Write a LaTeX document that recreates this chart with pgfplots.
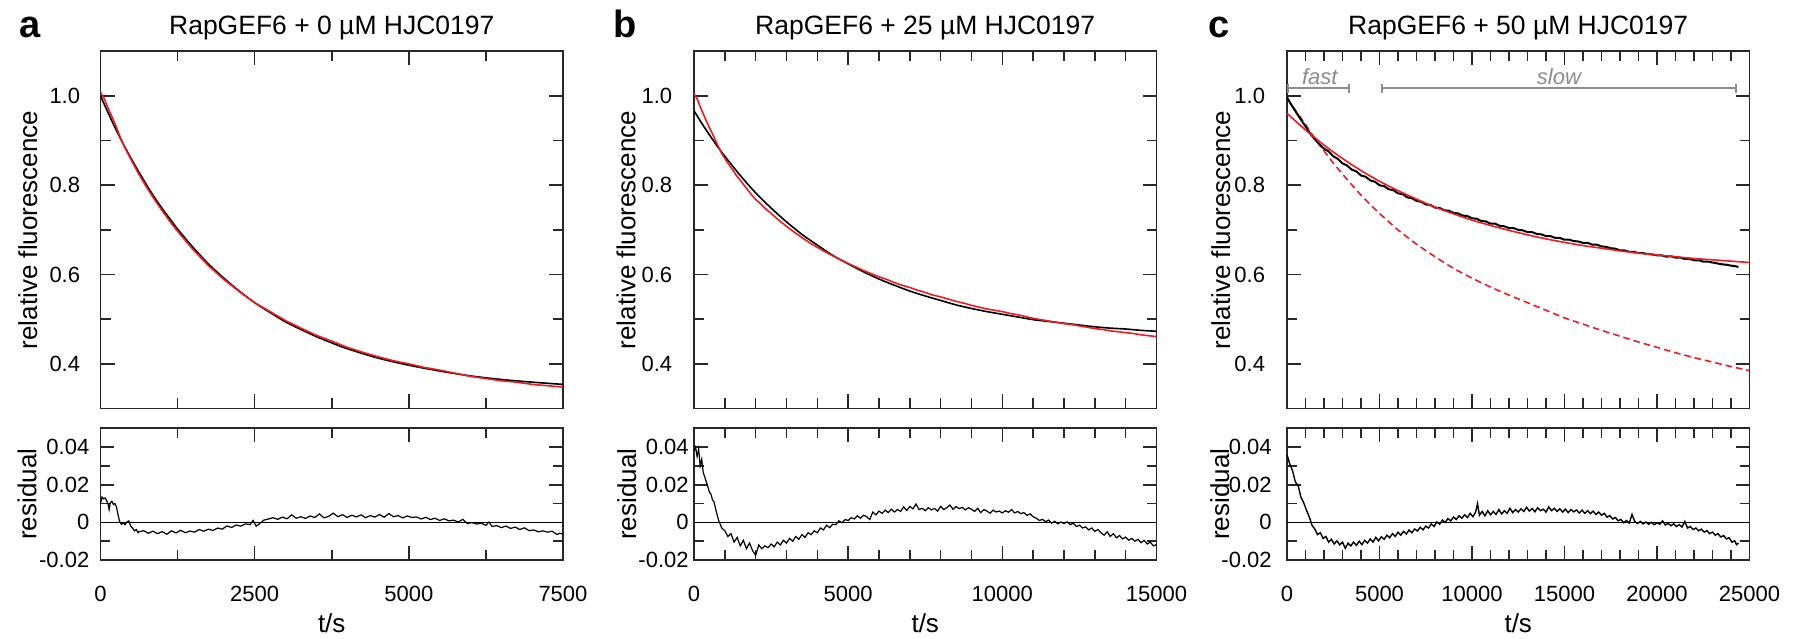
\documentclass[border=0pt]{standalone}
\usepackage{fontspec}
\setmainfont{Liberation Sans}
\usepackage{pgfplots}
\pgfplotsset{compat=1.18}
\usetikzlibrary{arrows.meta}

\definecolor{fitred}{RGB}{237,28,36}
\definecolor{annot}{RGB}{140,140,140}
\definecolor{frame}{RGB}{40,40,40}

\newcommand{\tickfont}{\fontsize{11}{13}\selectfont}
\newcommand{\labfont}{\fontsize{13}{15}\selectfont}

\pgfplotsset{
  panel/.style={
    scale only axis, width=231.25pt, anchor=south west,
    axis line style={line width=0.9pt, frame},
    every tick/.style={line width=0.8pt, frame},
    tick align=inside, tick pos=both,
    major tick length=7pt, minor tick length=5pt,
    scaled ticks=false,
    yticklabel style={anchor=east, inner sep=0pt, font=\tickfont},
    xticklabel style={anchor=base, inner sep=0pt, yshift=-20.85pt, font=\tickfont},
    every axis x label/.style={at={(axis description cs:0.5,-0.478)}, anchor=center, font=\labfont},
  },
  ylab/.style={every axis y label/.style={at={(axis description cs:#1,0.5)}, rotate=90, anchor=center, font=\labfont}},
  ytl/.style={yticklabel style={xshift=-#1}},
  top/.style={panel, height=178.6pt, ymin=0.3, ymax=1.1,
    ytick={0.4,0.6,0.8,1.0}, yticklabels={0.4,0.6,0.8,1.0}, minor ytick={0.5,0.7,0.9},
    xticklabels={}, ylabel={relative fluorescence}},
  bot/.style={panel, height=65.85pt, ymin=-0.02, ymax=0.05,
    ytick={-0.02,0,0.02,0.04}, yticklabels={-0.02,0,0.02,0.04}, minor ytick={-0.01,0.01,0.03},
    ylabel={residual}, xlabel={t/s}},
  fitline/.style={line width=0.8pt},
  resline/.style={black, line width=0.6pt},
}

\begin{document}
\begin{tikzpicture}
\useasboundingbox (0,0) rectangle (898pt,319pt);

% panel letters and titles
\node[anchor=base west, inner sep=0pt, font=\bfseries\fontsize{19}{21}\selectfont] at (9.5pt,300.25pt) {a};
\node[anchor=base west, inner sep=0pt, font=\bfseries\fontsize{19}{21}\selectfont] at (306.75pt,300.25pt) {b};
\node[anchor=base west, inner sep=0pt, font=\bfseries\fontsize{19}{21}\selectfont] at (604pt,300.25pt) {c};
\node[anchor=base, inner sep=0pt, font=\fontsize{13.25}{15}\selectfont] at (165.9pt,301.5pt) {RapGEF6 + 0 µM HJC0197};
\node[anchor=base, inner sep=0pt, font=\fontsize{13.25}{15}\selectfont] at (462.6pt,301.5pt) {RapGEF6 + 25 µM HJC0197};
\node[anchor=base, inner sep=0pt, font=\fontsize{13.25}{15}\selectfont] at (759.1pt,301.5pt) {RapGEF6 + 50 µM HJC0197};

% ---------------- a ----------------
\begin{axis}[top, at={(50.25pt,114.75pt)}, ylab=-0.157, ytl=10pt,
  xmin=0, xmax=7500, xtick={0,2500,5000,7500}, minor xtick={1250,3750,6250}]
\addplot[black, fitline, smooth] coordinates {
(0,1.000) (125,0.962) (250,0.925) (375,0.891) (500,0.859) (625,0.829) (750,0.800)
(875,0.773) (1000,0.748) (1250,0.702) (1500,0.661) (1750,0.624) (2000,0.592)
(2250,0.563) (2500,0.537) (2750,0.515) (3000,0.494) (3250,0.477) (3500,0.461)
(3750,0.447) (4000,0.434) (4500,0.413) (5000,0.397) (5500,0.384) (6000,0.373)
(6500,0.365) (7000,0.359) (7500,0.354)};
\addplot[fitred, fitline] coordinates {
(0,1.008) (60,0.994) (125,0.972) (190,0.952) (250,0.933) (310,0.911) (375,0.890)
(500,0.856) (625,0.824) (750,0.795) (875,0.768) (1000,0.743) (1125,0.719) (1250,0.697)
(1500,0.656) (1750,0.620) (2000,0.589) (2250,0.562) (2500,0.537) (2750,0.517)
(3000,0.497) (3250,0.480) (3500,0.464) (3750,0.451) (4000,0.437) (4250,0.426)
(4500,0.416) (4750,0.407) (5000,0.400) (5250,0.392) (5500,0.386) (5750,0.379)
(6000,0.372) (6250,0.367) (6500,0.362) (6750,0.359) (7000,0.354) (7250,0.351) (7500,0.348)};
\end{axis}

\begin{axis}[bot, at={(50.25pt,39pt)}, ylab=-0.159, ytl=5.4pt,
  xmin=0, xmax=7500, xtick={0,2500,5000,7500}, minor xtick={1250,3750,6250},
  xticklabels={0,2500,5000,7500}]
\addplot[black, line width=0.5pt] coordinates {(0,0) (7500,0)};
\addplot[resline] coordinates {
(0,0.0100) (25,0.0135) (50,0.0125) (75,0.0130) (100,0.0115) (125,0.0095) (140,0.0068)
(160,0.0105) (185,0.0112) (210,0.0095) (235,0.0100) (260,0.0080) (285,0.0040)
(310,0.0005) (340,-0.0010) (370,-0.0003) (400,-0.0012) (430,0.0003) (460,0.0008)
(490,-0.0020) (520,-0.0030) (550,-0.0045) (580,-0.0038) (610,-0.0055)
(625,-0.0050) (700,-0.0044) (775,-0.0058) (850,-0.0047) (925,-0.0060) (1000,-0.0049)
(1075,-0.0063) (1150,-0.0045) (1225,-0.0056) (1300,-0.0042) (1375,-0.0055) (1450,-0.0046)
(1525,-0.0052) (1600,-0.0038) (1675,-0.0047) (1750,-0.0036) (1825,-0.0043) (1900,-0.0030)
(1975,-0.0036) (2050,-0.0019) (2125,-0.0027) (2200,-0.0014) (2275,-0.0020) (2350,-0.0008)
(2425,-0.0012) (2475,0.0010) (2525,-0.0020) (2575,-0.0008) (2650,0.0012) (2725,0.0018)
(2800,0.0025) (2875,0.0016) (2950,0.0028) (3025,0.0019) (3100,0.0040) (3175,0.0022)
(3250,0.0030) (3325,0.0021) (3400,0.0034) (3475,0.0026) (3550,0.0045) (3625,0.0024)
(3700,0.0032) (3775,0.0049) (3850,0.0030) (3925,0.0041) (4000,0.0026) (4075,0.0038)
(4150,0.0029) (4225,0.0040) (4300,0.0025) (4375,0.0036) (4450,0.0028) (4525,0.0042)
(4600,0.0027) (4675,0.0047) (4750,0.0030) (4825,0.0036) (4900,0.0024) (4975,0.0034)
(5050,0.0026) (5125,0.0029) (5200,0.0018) (5275,0.0027) (5350,0.0015) (5425,0.0022)
(5500,0.0010) (5575,0.0019) (5650,0.0008) (5725,0.0012) (5800,0.0002) (5875,0.0016)
(5950,-0.0006) (6025,-0.0001) (6100,-0.0009) (6175,-0.0004) (6250,-0.0016) (6300,0.0002)
(6350,-0.0022) (6425,-0.0017) (6500,-0.0028) (6575,-0.0020) (6650,-0.0032) (6725,-0.0025)
(6800,-0.0038) (6875,-0.0029) (6950,-0.0044) (7025,-0.0040) (7100,-0.0050) (7175,-0.0045)
(7250,-0.0052) (7325,-0.0047) (7400,-0.0064) (7450,-0.0058) (7500,-0.0062)};
\end{axis}

% ---------------- b ----------------
\begin{axis}[top, at={(347pt,114.75pt)}, ylab=-0.147, ytl=10.7pt,
  xmin=0, xmax=15000, xtick={0,5000,10000,15000}, minor xtick={0,1000,...,15000}]
\addplot[black, fitline, smooth] coordinates {
(0,0.967) (250,0.939) (500,0.913) (750,0.888) (1000,0.865) (1500,0.822) (2000,0.783)
(2500,0.749) (3000,0.718) (3500,0.690) (4000,0.666) (4500,0.643) (5000,0.624)
(5500,0.606) (6000,0.590) (6500,0.576) (7000,0.563) (7500,0.552) (8000,0.542)
(8500,0.532) (9000,0.524) (9500,0.517) (10000,0.511) (10500,0.505) (11000,0.499)
(11500,0.495) (12000,0.491) (12500,0.487) (13000,0.483) (13500,0.480) (14000,0.478)
(14500,0.475) (15000,0.473)};
\addplot[fitred, fitline] coordinates {
(0,1.005) (100,0.994) (200,0.976) (300,0.960) (400,0.944) (500,0.929) (600,0.915)
(700,0.900) (800,0.885) (900,0.871) (1000,0.860) (1125,0.847) (1250,0.835) (1375,0.822)
(1500,0.811) (1625,0.800) (1750,0.789) (1875,0.778) (2000,0.768) (2125,0.761)
(2250,0.752) (2375,0.744) (2500,0.737) (2625,0.729) (2750,0.722) (2875,0.715)
(3000,0.708) (3250,0.695) (3500,0.683) (3750,0.671) (4000,0.661) (4250,0.651)
(4500,0.642) (4750,0.633) (5000,0.625) (5250,0.617) (5500,0.609) (5750,0.602)
(6000,0.595) (6250,0.589) (6500,0.582) (6750,0.576) (7000,0.571) (7250,0.565)
(7500,0.560) (7750,0.554) (8000,0.550) (8250,0.545) (8500,0.540) (8750,0.536)
(9000,0.531) (9250,0.527) (9500,0.523) (9750,0.520) (10000,0.517) (10250,0.513)
(10500,0.510) (10750,0.506) (11000,0.502) (11250,0.499) (11500,0.496) (11750,0.493)
(12000,0.490) (12250,0.488) (12500,0.485) (12750,0.482) (13000,0.479) (13250,0.477)
(13500,0.474) (13750,0.472) (14000,0.470) (14250,0.468) (14500,0.465) (14750,0.463)
(15000,0.461)};
\end{axis}

\begin{axis}[bot, at={(347pt,39pt)}, ylab=-0.145, ytl=2.5pt,
  xmin=0, xmax=15000, xtick={0,5000,10000,15000}, minor xtick={0,1000,...,15000},
  xticklabels={0,5000,10000,15000}]
\addplot[black, line width=0.5pt] coordinates {(0,0) (15000,0)};
\addplot[resline] coordinates {
(0,0.0380) (50,0.0400) (100,0.0350) (150,0.0390) (200,0.0300) (250,0.0335) (300,0.0265)
(350,0.0240) (400,0.0215) (450,0.0190) (500,0.0160) (550,0.0150) (600,0.0120)
(650,0.0108) (700,0.0072) (750,0.0040) (800,0.0010) (900,-0.0030) (1000,-0.0045)
(1100,-0.0075) (1200,-0.0060) (1300,-0.0105) (1400,-0.0080) (1500,-0.0125)
(1600,-0.0095) (1700,-0.0140) (1800,-0.0110) (1900,-0.0150) (2000,-0.0175)
(2100,-0.0120) (2200,-0.0140) (2300,-0.0125) (2400,-0.0135) (2500,-0.0115)
(2600,-0.0130) (2700,-0.0105) (2800,-0.0120) (2900,-0.0095) (3000,-0.0110)
(3100,-0.0085) (3200,-0.0100) (3300,-0.0075) (3400,-0.0090) (3500,-0.0065)
(3600,-0.0080) (3700,-0.0055) (3800,-0.0065) (3900,-0.0045) (4000,-0.0055)
(4100,-0.0030) (4200,-0.0040) (4300,-0.0015) (4400,-0.0028) (4500,-0.0010)
(4600,-0.0012) (4700,0.0008) (4800,-0.0002) (4900,0.0015) (5000,0.0010) (5100,0.0025)
(5200,0.0018) (5300,0.0035) (5400,0.0022) (5500,0.0038) (5600,0.0030) (5700,0.0015)
(5800,0.0055) (5900,0.0040) (6000,0.0060) (6100,0.0048) (6200,0.0065) (6300,0.0052)
(6400,0.0070) (6500,0.0055) (6600,0.0068) (6700,0.0058) (6800,0.0082) (6900,0.0063)
(7000,0.0085) (7100,0.0072) (7200,0.0098) (7300,0.0068) (7400,0.0075) (7500,0.0062)
(7600,0.0078) (7700,0.0066) (7800,0.0074) (7900,0.0060) (8000,0.0085) (8100,0.0068)
(8200,0.0078) (8300,0.0092) (8400,0.0070) (8500,0.0084) (8600,0.0073) (8700,0.0080)
(8800,0.0066) (8900,0.0078) (9000,0.0070) (9100,0.0058) (9200,0.0075) (9300,0.0052)
(9400,0.0068) (9500,0.0060) (9600,0.0049) (9700,0.0065) (9800,0.0055) (9900,0.0060)
(10000,0.0050) (10100,0.0062) (10200,0.0054) (10300,0.0068) (10400,0.0050) (10500,0.0058)
(10600,0.0046) (10700,0.0052) (10800,0.0038) (10900,0.0045) (11000,0.0030) (11100,0.0022)
(11200,0.0010) (11300,0.0016) (11400,0.0004) (11500,0.0012) (11600,-0.0004) (11700,0.0006)
(11800,-0.0008) (11900,0.0002) (12000,-0.0006) (12100,0.0003) (12200,-0.0012) (12300,-0.0004)
(12400,-0.0022) (12500,-0.0015) (12600,-0.0030) (12700,-0.0024) (12800,-0.0040)
(12900,-0.0030) (13000,-0.0048) (13100,-0.0038) (13200,-0.0055) (13300,-0.0068)
(13400,-0.0050) (13500,-0.0075) (13600,-0.0060) (13700,-0.0082) (13800,-0.0070)
(13900,-0.0088) (14000,-0.0078) (14100,-0.0095) (14200,-0.0085) (14300,-0.0100)
(14400,-0.0090) (14500,-0.0108) (14600,-0.0096) (14700,-0.0115) (14800,-0.0105)
(14900,-0.0125) (15000,-0.0118)};
\end{axis}

% ---------------- c ----------------
\begin{axis}[top, at={(643.5pt,114.75pt)}, ylab=-0.143, ytl=10.8pt,
  xmin=0, xmax=25000, xtick={0,5000,...,25000}, minor xtick={0,1000,...,25000}]
\draw[annot, line width=1pt, {Bar[width=4.5pt]}-{Bar[width=4.5pt]}] (axis cs:0,1.017) -- (axis cs:3400,1.017);
\draw[annot, line width=1pt, {Bar[width=4.5pt]}-{Bar[width=4.5pt]}] (axis cs:5100,1.017) -- (axis cs:24300,1.017);
\node[annot, anchor=base, inner sep=0pt, font=\itshape\tickfont] at (axis cs:1770,1.026) {fast};
\node[annot, anchor=base, inner sep=0pt, font=\itshape\tickfont] at (axis cs:14700,1.026) {slow};
\addplot[fitred, fitline, dash pattern=on 3.3pt off 2pt, smooth] coordinates {
(0,0.995) (500,0.965) (1000,0.936) (1500,0.905) (2000,0.877) (2500,0.850) (3000,0.825)
(3500,0.801) (4000,0.778) (4500,0.757) (5000,0.737) (6000,0.700) (7000,0.668)
(8000,0.640) (9000,0.614) (10000,0.592) (11000,0.572) (12000,0.554) (13000,0.537)
(14000,0.520) (15000,0.503) (16000,0.489) (17000,0.475) (18000,0.462) (19000,0.449)
(20000,0.437) (21000,0.425) (22000,0.414) (23000,0.404) (24000,0.394) (25000,0.385)};
\addplot[black, line width=1pt] coordinates {
(0,0.997) (150,0.986) (300,0.976) (500,0.963) (750,0.947) (1000,0.932) (1250,0.916)
(1500,0.903) (1750,0.892) (2000,0.882) (2250,0.876) (2500,0.865) (2750,0.859)
(3000,0.849) (3250,0.844) (3500,0.835) (3750,0.831) (4000,0.822) (4250,0.819)
(4500,0.811) (4750,0.808) (5000,0.800) (5250,0.798) (5500,0.791) (5750,0.789)
(6000,0.782) (6250,0.780) (6500,0.773) (6750,0.771) (7000,0.765) (7250,0.763)
(7500,0.757) (7750,0.756) (8000,0.750) (8250,0.749) (8500,0.744) (8750,0.743)
(9000,0.738) (9250,0.737) (9500,0.732) (9750,0.731) (10000,0.726) (10250,0.725)
(10500,0.720) (10750,0.719) (11000,0.714) (11250,0.714) (11500,0.709) (11750,0.708)
(12000,0.704) (12250,0.704) (12500,0.700) (12750,0.699) (13000,0.695) (13250,0.695)
(13500,0.691) (13750,0.690) (14000,0.686) (14250,0.686) (14500,0.682) (14750,0.682)
(15000,0.678) (15250,0.678) (15500,0.675) (15750,0.674) (16000,0.671) (16250,0.671)
(16500,0.667) (16750,0.667) (17000,0.663) (17250,0.662) (17500,0.659) (17750,0.658)
(18000,0.654) (18250,0.654) (18500,0.651) (18750,0.651) (19000,0.648) (19250,0.648)
(19500,0.646) (19750,0.645) (20000,0.643) (20250,0.643) (20500,0.640) (20750,0.641)
(21000,0.638) (21250,0.638) (21500,0.635) (21750,0.635) (22000,0.632) (22250,0.632)
(22500,0.629) (22750,0.629) (23000,0.627) (23250,0.625) (23500,0.623) (23750,0.622)
(24000,0.620) (24200,0.619) (24400,0.617)};
\addplot[fitred, fitline, smooth] coordinates {
(0,0.961) (1000,0.924) (2000,0.890) (3000,0.860) (4000,0.833) (5000,0.809) (6000,0.788)
(7000,0.769) (8000,0.751) (9000,0.736) (10000,0.722) (11000,0.710) (12000,0.699)
(13000,0.689) (14000,0.680) (15000,0.672) (16000,0.665) (17000,0.659) (18000,0.653)
(19000,0.648) (20000,0.644) (21000,0.640) (22000,0.636) (23000,0.633) (24000,0.630)
(25000,0.627)};
\end{axis}

\begin{axis}[bot, at={(643.5pt,39pt)}, ylab=-0.145, ytl=7.5pt,
  xmin=0, xmax=25000, xtick={0,5000,...,25000}, minor xtick={0,1000,...,25000},
  xticklabels={0,5000,10000,15000,20000,25000}]
\addplot[black, line width=0.5pt] coordinates {(0,0) (25000,0)};
\addplot[resline, line width=0.7pt] coordinates {
(0,0.0360) (150,0.0310) (300,0.0275) (450,0.0215) (600,0.0195) (750,0.0135) (900,0.0105)
(1050,0.0065) (1200,0.0030) (1350,-0.0015) (1500,-0.0035) (1650,-0.0065) (1800,-0.0055)
(1950,-0.0085) (2100,-0.0075) (2250,-0.0105) (2400,-0.0090) (2550,-0.0115) (2700,-0.0098)
(2850,-0.0120) (3000,-0.0105) (3150,-0.0138) (3300,-0.0110) (3450,-0.0125) (3600,-0.0105)
(3750,-0.0122) (3900,-0.0100) (4050,-0.0118) (4200,-0.0095) (4350,-0.0110) (4500,-0.0088)
(4650,-0.0105) (4800,-0.0080) (4950,-0.0098) (5100,-0.0076) (5250,-0.0090) (5400,-0.0068)
(5550,-0.0082) (5700,-0.0060) (5850,-0.0075) (6000,-0.0052) (6150,-0.0068) (6300,-0.0048)
(6450,-0.0062) (6600,-0.0040) (6750,-0.0055) (6900,-0.0035) (7050,-0.0046) (7200,-0.0026)
(7350,-0.0040) (7500,-0.0020) (7650,-0.0030) (7800,-0.0008) (7950,-0.0022) (8100,0.0002)
(8250,-0.0010) (8400,0.0012) (8550,0.0000) (8700,0.0020) (8850,0.0008) (9000,0.0028)
(9150,0.0015) (9300,0.0035) (9450,0.0022) (9600,0.0040) (9750,0.0026) (9900,0.0048)
(10050,0.0030) (10200,0.0055) (10300,0.0100) (10400,0.0038) (10550,0.0058) (10700,0.0035)
(10850,0.0062) (11000,0.0040) (11150,0.0058) (11300,0.0042) (11450,0.0068) (11600,0.0045)
(11750,0.0062) (11900,0.0048) (12050,0.0075) (12200,0.0052) (12350,0.0068) (12500,0.0055)
(12650,0.0072) (12800,0.0058) (12950,0.0080) (13100,0.0060) (13250,0.0074) (13400,0.0056)
(13550,0.0078) (13700,0.0062) (13850,0.0070) (14000,0.0055) (14150,0.0082) (14300,0.0062)
(14450,0.0075) (14600,0.0058) (14750,0.0072) (14900,0.0055) (15050,0.0070) (15200,0.0052)
(15350,0.0068) (15500,0.0056) (15650,0.0066) (15800,0.0050) (15950,0.0065) (16100,0.0048)
(16250,0.0062) (16400,0.0046) (16550,0.0060) (16700,0.0042) (16850,0.0055) (17000,0.0038)
(17150,0.0048) (17300,0.0028) (17450,0.0036) (17600,0.0018) (17750,0.0026) (17900,0.0008)
(18050,0.0016) (18200,-0.0002) (18350,0.0010) (18500,-0.0004) (18650,0.0042) (18800,0.0004)
(18950,-0.0006) (19100,0.0005) (19250,-0.0008) (19400,0.0002) (19550,-0.0010) (19700,0.0000)
(19850,-0.0012) (20000,-0.0002) (20150,-0.0010) (20300,0.0008) (20450,-0.0014) (20600,-0.0005)
(20750,-0.0018) (20900,-0.0008) (21050,-0.0022) (21200,-0.0012) (21350,-0.0025) (21500,0.0005)
(21650,-0.0030) (21800,-0.0022) (21950,-0.0038) (22100,-0.0030) (22250,-0.0045) (22400,-0.0036)
(22550,-0.0052) (22700,-0.0044) (22850,-0.0060) (23000,-0.0052) (23150,-0.0068) (23300,-0.0060)
(23450,-0.0078) (23600,-0.0070) (23750,-0.0088) (23900,-0.0082) (24050,-0.0105) (24200,-0.0098)
(24300,-0.0118) (24400,-0.0110)};
\end{axis}
\end{tikzpicture}
\end{document}
